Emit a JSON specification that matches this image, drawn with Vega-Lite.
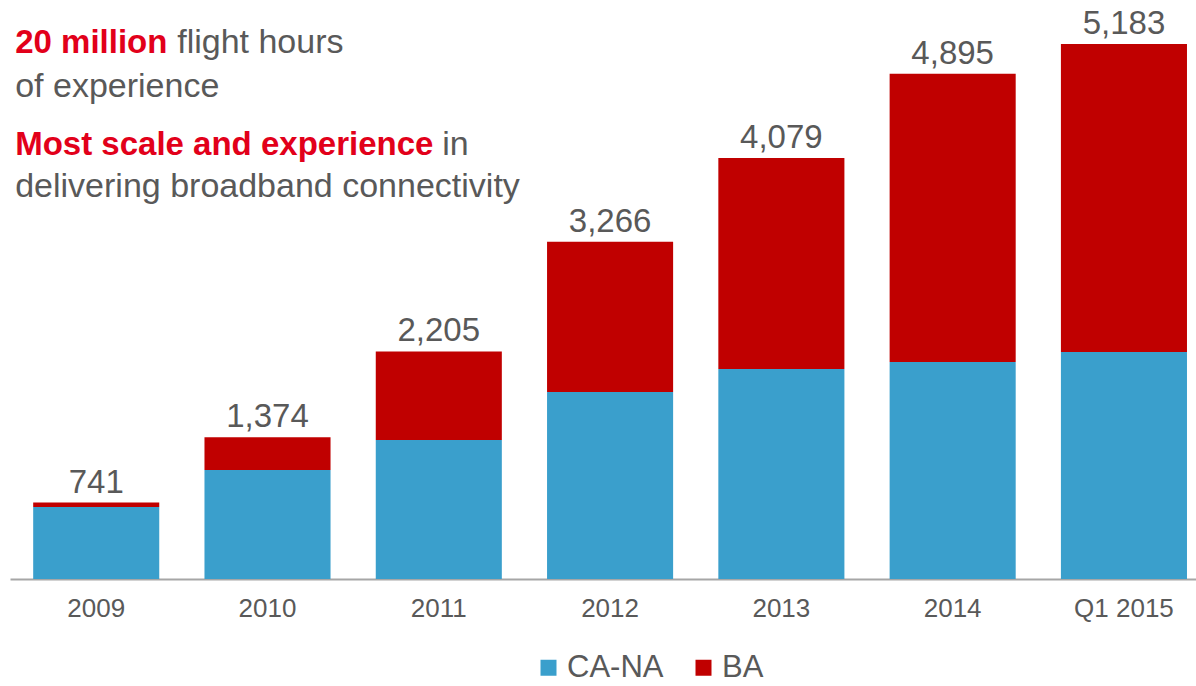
{
  "$schema": "https://vega.github.io/schema/vega-lite/v6.json",
  "width": 1186,
  "height": 579,
  "autosize": {"type": "none"},
  "padding": {"left": 10, "top": 0, "right": 0, "bottom": 107},
  "background": "white",
  "config": {
    "view": {"stroke": null},
    "font": "Liberation Sans",
    "text": {"font": "Liberation Sans"}
  },
  "data": {
    "values": [
      {"year": "2009", "series": "CA-NA", "value": 698},
      {"year": "2009", "series": "BA", "value": 43},
      {"year": "2010", "series": "CA-NA", "value": 1056},
      {"year": "2010", "series": "BA", "value": 318},
      {"year": "2011", "series": "CA-NA", "value": 1347},
      {"year": "2011", "series": "BA", "value": 858},
      {"year": "2012", "series": "CA-NA", "value": 1812},
      {"year": "2012", "series": "BA", "value": 1454},
      {"year": "2013", "series": "CA-NA", "value": 2035},
      {"year": "2013", "series": "BA", "value": 2044},
      {"year": "2014", "series": "CA-NA", "value": 2103},
      {"year": "2014", "series": "BA", "value": 2792},
      {"year": "Q1 2015", "series": "CA-NA", "value": 2200},
      {"year": "Q1 2015", "series": "BA", "value": 2983}
    ]
  },
  "encoding": {
    "x": {
      "field": "year",
      "type": "nominal",
      "sort": null,
      "scale": {"paddingInner": 0.264, "paddingOuter": 0.094, "align": 0.72},
      "axis": {
        "title": null,
        "labelAngle": 0,
        "ticks": false,
        "labelFontSize": 26,
        "labelColor": "#595959",
        "labelFont": "Liberation Sans",
        "labelPadding": 16,
        "domainColor": "#a6a6a6",
        "domainWidth": 2
      }
    }
  },
  "layer": [
    {
      "mark": {"type": "bar"},
      "encoding": {
        "y": {
          "field": "value",
          "type": "quantitative",
          "stack": "zero",
          "scale": {"domain": [0, 5609], "nice": false, "zero": true},
          "axis": null
        },
        "color": {
          "field": "series",
          "type": "nominal",
          "scale": {"domain": ["CA-NA", "BA"], "range": ["#3a9fcc", "#c00000"]},
          "legend": {
            "title": null,
            "orient": "none",
            "direction": "horizontal",
            "legendX": 523,
            "legendY": 652,
            "symbolType": "square",
            "symbolSize": 256,
            "symbolStrokeWidth": 0,
            "symbolOpacity": 1,
            "labelFontSize": 31,
            "labelFont": "Liberation Sans",
            "labelColor": "#595959",
            "labelOffset": 3,
            "columnPadding": 24
          }
        },
        "order": {"field": "series", "sort": "descending"}
      }
    },
    {
      "transform": [
        {"aggregate": [{"op": "sum", "field": "value", "as": "total"}], "groupby": ["year"]}
      ],
      "mark": {"type": "text", "baseline": "alphabetic", "dy": -10, "fontSize": 33, "color": "#595959", "font": "Liberation Sans"},
      "encoding": {
        "y": {"field": "total", "type": "quantitative"},
        "text": {"field": "total", "type": "quantitative", "format": ",d"}
      }
    },
    {
      "data": {"values": [{}]},
      "mark": {"type": "text", "text": "20 million", "align": "left", "baseline": "alphabetic", "fontSize": 33, "fontWeight": "bold", "color": "#e2001a", "dx": -18},
      "encoding": {"x": {"datum": "2009", "bandPosition": 0}, "y": {"datum": 5100}}
    },
    {
      "data": {"values": [{}]},
      "mark": {"type": "text", "text": "flight hours", "align": "left", "baseline": "alphabetic", "fontSize": 34, "color": "#595959", "dx": 144},
      "encoding": {"x": {"datum": "2009", "bandPosition": 0}, "y": {"datum": 5100}}
    },
    {
      "data": {"values": [{}]},
      "mark": {"type": "text", "text": "of experience", "align": "left", "baseline": "alphabetic", "fontSize": 34, "color": "#595959", "dx": -18},
      "encoding": {"x": {"datum": "2009", "bandPosition": 0}, "y": {"datum": 4669}}
    },
    {
      "data": {"values": [{}]},
      "mark": {"type": "text", "text": "Most scale and experience", "align": "left", "baseline": "alphabetic", "fontSize": 33, "fontWeight": "bold", "color": "#e2001a", "dx": -18},
      "encoding": {"x": {"datum": "2009", "bandPosition": 0}, "y": {"datum": 4107}}
    },
    {
      "data": {"values": [{}]},
      "mark": {"type": "text", "text": "in", "align": "left", "baseline": "alphabetic", "fontSize": 34, "color": "#595959", "dx": 409},
      "encoding": {"x": {"datum": "2009", "bandPosition": 0}, "y": {"datum": 4107}}
    },
    {
      "data": {"values": [{}]},
      "mark": {"type": "text", "text": "delivering broadband connectivity", "align": "left", "baseline": "alphabetic", "fontSize": 34, "color": "#595959", "dx": -18},
      "encoding": {"x": {"datum": "2009", "bandPosition": 0}, "y": {"datum": 3700}}
    }
  ]
}
